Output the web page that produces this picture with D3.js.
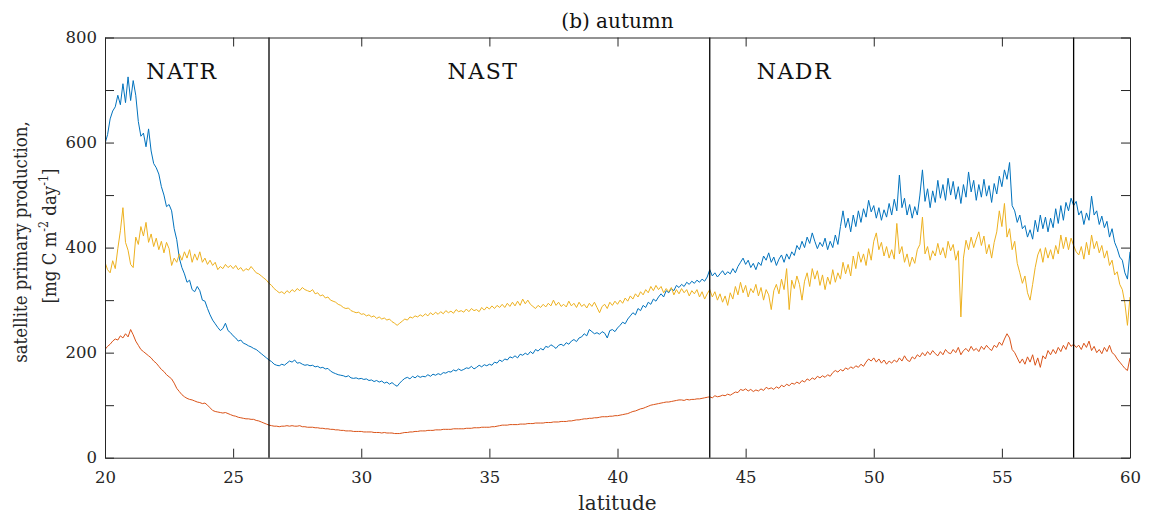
<!DOCTYPE html>
<html>
<head>
<meta charset="utf-8">
<script src="https://cdn.jsdelivr.net/npm/d3@7"></script>
<style>
  html, body { margin: 0; padding: 0; background: #fff; }
  svg { display: block; }
  text { font-family: "DejaVu Serif", "Liberation Serif", serif; fill: #262626; }
</style>
</head>
<body>
<svg id="chart" width="1149" height="521"></svg>
<script>
// ---- data ----
const latStart = 20, latStep = 0.1;
const provinceBounds = [26.4, 43.6, 57.8];
const provinceNames = ["NATR", "NAST", "NADR"];
const provinceLabelLat = [23.0, 34.75, 46.9];
const xTicks = [20, 25, 30, 35, 40, 45, 50, 55, 60];
const yTicks = [0, 100, 200, 300, 400, 500, 600, 700, 800];

const seriesBlue = [
598,615,645,660,668,690,672,712,676,725,
680,718,690,640,612,618,592,626,584,560,
552,540,516,500,478,482,470,436,415,380,
362,350,334,338,320,316,326,318,300,298,
284,272,262,255,248,242,246,256,242,238,
232,228,222,224,218,216,213,211,208,206,
202,198,194,190,186,183,178,176,175,178,
176,180,184,182,186,180,181,178,176,177,
175,176,173,174,171,172,169,170,165,162,
160,158,157,156,154,156,152,151,152,150,
151,149,150,147,148,145,147,144,146,142,
144,140,143,139,136,142,147,151,153,150,
155,152,156,153,155,154,158,155,159,157,
160,158,162,161,164,163,167,165,169,166,
168,171,170,174,169,172,176,173,177,175,
178,176,182,180,186,183,188,186,192,190,
194,190,197,195,199,196,202,198,206,203,
208,205,212,210,215,212,208,214,216,213,
219,216,222,225,221,228,230,236,232,244,
240,236,238,235,240,237,228,242,244,240,
247,252,258,255,264,270,276,272,284,280,
290,286,296,292,302,298,306,312,306,318,
314,322,318,328,324,330,326,334,330,336,
332,338,334,340,336,344,358,346,352,344,
350,356,348,354,350,360,352,364,372,380,
368,376,362,370,358,372,366,384,376,390,
372,382,366,378,386,372,388,378,392,385,
404,396,412,400,420,408,428,412,398,410,
402,418,396,412,400,424,406,440,470,438,
456,430,462,440,470,448,474,458,490,468,
480,456,476,452,472,458,484,462,492,470,
538,476,494,462,482,456,478,462,500,548,
488,512,476,508,486,528,494,520,490,532,
500,526,492,516,484,520,496,544,506,528,
490,520,496,530,498,518,486,522,502,536,
516,548,530,562,480,470,448,462,436,442,
420,434,416,452,430,462,436,458,430,456,
438,474,446,480,452,486,470,494,480,488,
462,470,444,466,452,498,462,470,444,460,
438,450,420,436,410,398,382,376,352,340,
392];

const seriesOrange = [
206,212,216,222,226,224,232,228,236,230,
244,234,222,214,206,202,198,194,190,184,
180,174,168,164,158,154,150,142,132,126,
120,116,113,111,110,108,106,105,103,104,
100,95,90,88,87,86,85,86,84,82,
80,79,77,76,75,74,74,73,73,71,
70,68,66,64,62,61,60,60,59,60,
60,61,60,61,60,60,61,59,59,58,
58,58,57,57,56,56,55,55,54,54,
53,53,52,52,51,51,51,50,50,50,
50,49,49,49,49,48,48,48,47,48,
47,47,47,46,46,46,47,48,48,49,
49,50,50,51,51,51,52,52,52,53,
53,53,54,54,54,54,55,55,55,55,
55,56,56,56,57,57,57,58,58,58,
58,59,59,60,61,62,62,62,63,63,
63,63,64,64,64,65,65,65,66,66,
66,66,67,67,67,68,68,68,69,69,
69,70,70,71,72,72,73,74,74,75,
75,76,76,77,78,78,78,79,79,80,
80,81,82,83,84,86,88,89,91,93,
94,96,98,100,101,102,103,104,105,106,
106,107,108,109,110,110,109,111,110,111,
111,112,112,113,114,115,116,114,118,116,
117,119,118,121,119,122,125,124,130,128,
131,127,130,126,129,127,131,128,134,131,
133,130,135,132,138,135,140,137,142,140,
144,141,147,144,150,147,152,149,155,152,
156,153,158,155,162,166,163,168,165,171,
168,173,170,175,172,178,174,182,188,184,
190,182,188,180,186,178,184,180,186,182,
190,184,194,186,183,192,188,196,192,200,
194,202,196,204,198,194,202,196,206,200,
198,206,200,210,196,204,208,202,212,204,
208,202,212,206,214,208,204,214,210,220,
214,226,236,228,206,200,190,180,188,178,
192,182,196,176,190,172,194,188,204,196,
206,198,210,202,214,206,220,212,216,210,
214,206,218,210,222,204,212,200,206,198,
210,202,214,200,196,188,182,176,170,166,
190];

const seriesYellow = [
372,358,352,375,360,398,432,476,410,395,
368,362,420,406,440,422,448,410,426,402,
418,396,412,390,410,398,366,380,372,388,
376,392,380,396,372,388,376,392,372,380,
368,376,366,372,358,364,360,368,362,366,
360,366,358,362,355,360,357,364,358,352,
350,346,342,338,332,328,322,318,314,316,
312,318,314,320,316,322,318,324,320,318,
316,320,312,314,308,310,304,306,300,298,
296,292,290,286,284,285,280,278,276,277,
273,274,270,272,268,270,265,268,264,266,
262,264,259,256,252,256,260,264,262,268,
266,270,268,272,269,274,270,276,272,277,
273,278,274,280,276,279,275,282,278,280,
277,283,278,284,280,282,278,286,281,287,
283,289,284,290,286,292,286,294,288,296,
289,298,290,302,293,300,292,288,284,290,
286,292,287,294,289,300,290,296,288,292,
287,298,289,294,286,296,288,292,285,294,
288,296,286,276,288,292,284,296,290,298,
292,300,294,304,298,308,302,312,306,316,
310,320,314,326,318,328,320,326,314,322,
316,324,310,320,312,322,314,320,308,318,
312,320,306,316,302,312,320,306,316,300,
312,296,308,290,314,302,326,310,334,314,
328,306,322,314,330,308,324,300,320,310,
282,318,330,312,340,320,360,282,338,322,
346,330,300,336,352,326,360,340,356,328,
348,320,344,330,358,334,352,340,372,350,
368,346,384,360,392,372,388,366,398,376,
412,428,396,410,384,402,380,396,378,446,
388,402,372,388,364,382,370,396,406,458,
388,402,376,394,384,408,386,400,380,412,
394,406,376,394,268,380,414,396,420,400,
416,430,404,422,388,406,380,410,430,470,
440,484,420,436,396,412,370,352,332,346,
314,300,330,362,386,398,372,400,380,396,
378,404,388,424,398,420,396,418,404,392,
386,402,378,410,386,424,398,412,390,404,
380,394,366,376,348,354,330,320,294,252,
306];

const series = [
  { name: "blue",   values: seriesBlue,   color: "#0072BD" },
  { name: "orange", values: seriesOrange, color: "#D95319" },
  { name: "yellow", values: seriesYellow, color: "#EDB120" }
];

// ---- layout ----
const svg = d3.select("#chart");
const pL = 105, pR = 1130, pT = 37.5, pB = 457.7;
const x = d3.scaleLinear().domain([20, 60]).range([pL, pR]);
const y = d3.scaleLinear().domain([0, 800]).range([pB, pT]);
const axisColor = "#262626";

svg.append("clipPath").attr("id", "plotclip")
  .append("rect").attr("x", pL).attr("y", pT)
  .attr("width", pR - pL).attr("height", pB - pT);

// lines
const line = d3.line()
  .x((d, i) => x(latStart + i * latStep))
  .y(d => y(d));

const gLines = svg.append("g").attr("clip-path", "url(#plotclip)");
series.forEach(s => {
  gLines.append("path")
    .datum(s.values)
    .attr("fill", "none")
    .attr("stroke", s.color)
    .attr("stroke-width", 1)
    .attr("stroke-linejoin", "round")
    .attr("d", line);
});

// province boundaries
svg.append("g").selectAll("line").data(provinceBounds).join("line")
  .attr("x1", d => x(d)).attr("x2", d => x(d))
  .attr("y1", pT).attr("y2", pB)
  .attr("stroke", "#000").attr("stroke-width", 1.3);

// province labels
svg.append("g").selectAll("text").data(provinceNames).join("text")
  .attr("x", (d, i) => x(provinceLabelLat[i]))
  .attr("y", 79)
  .attr("text-anchor", "middle")
  .style("font-size", "22px")
  .style("letter-spacing", "1.5px")
  .style("fill", "#111")
  .text(d => d);

// axes
function styleAxis(g) {
  g.select(".domain").attr("stroke", axisColor).attr("stroke-width", 1);
  g.selectAll(".tick line").attr("stroke", axisColor).attr("stroke-width", 1);
  g.selectAll(".tick text").style("font-family", "DejaVu Serif, serif").style("fill", axisColor);
}

const xAxis = d3.axisBottom(x).tickValues(xTicks).tickSizeInner(-9).tickSizeOuter(0)
  .tickPadding(14).tickFormat(d3.format("d"));
svg.append("g").attr("transform", `translate(0,${pB})`).call(xAxis)
  .call(styleAxis).selectAll(".tick text").style("font-size", "16.5px");

const xAxisTop = d3.axisTop(x).tickValues(xTicks).tickSizeInner(-9).tickSizeOuter(0).tickFormat("");
svg.append("g").attr("transform", `translate(0,${pT})`).call(xAxisTop).call(styleAxis);

const yAxis = d3.axisLeft(y).tickValues(yTicks).tickSizeInner(-9).tickSizeOuter(0)
  .tickPadding(8).tickFormat(d => d % 200 === 0 ? d : "");
svg.append("g").attr("transform", `translate(${pL},0)`).call(yAxis)
  .call(styleAxis).selectAll(".tick text").style("font-size", "16.5px");

const yAxisRight = d3.axisRight(y).tickValues(yTicks).tickSizeInner(-9).tickSizeOuter(0).tickFormat("");
svg.append("g").attr("transform", `translate(${pR},0)`).call(yAxisRight).call(styleAxis);

// title
svg.append("text").attr("x", (pL + pR) / 2).attr("y", 28)
  .attr("text-anchor", "middle").style("font-size", "20px").style("fill", "#111")
  .text("(b) autumn");

// x label
svg.append("text").attr("x", (pL + pR) / 2).attr("y", 510)
  .attr("text-anchor", "middle").style("font-size", "20px").style("fill", axisColor)
  .text("latitude");

// y label (two lines)
const yl = svg.append("text")
  .attr("transform", "translate(27,242) scale(1.15,1) rotate(-90)")
  .attr("text-anchor", "middle").style("font-size", "16.6px").style("fill", axisColor);
yl.append("tspan").attr("x", 0).attr("y", 0).text("satellite primary production,");
const l2 = svg.append("text")
  .attr("transform", "translate(56,236) scale(1.15,1) rotate(-90)")
  .attr("text-anchor", "middle").style("font-size", "16.6px").style("fill", axisColor);
l2.append("tspan").text("[mg C m");
l2.append("tspan").attr("dy", -7).style("font-size", "11px").text("-2");
l2.append("tspan").attr("dy", 7).text(" day");
l2.append("tspan").attr("dy", -7).style("font-size", "11px").text("-1");
l2.append("tspan").attr("dy", 7).text("]");
</script>
</body>
</html>
